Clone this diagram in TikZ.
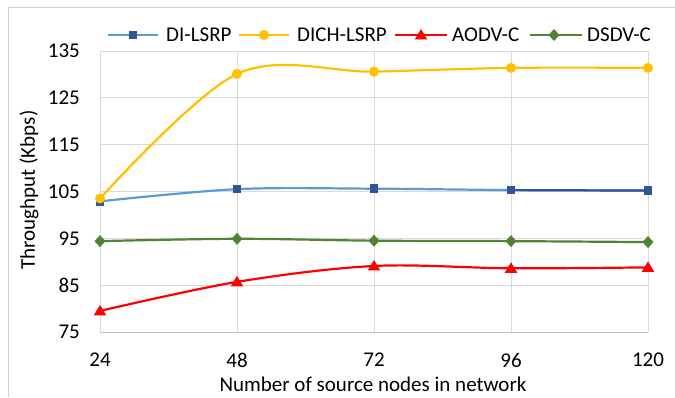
\documentclass[tikz,border=0pt]{standalone}
\usepackage{fontspec}
\setmainfont{Carlito}
\usetikzlibrary{plotmarks}
\definecolor{gridc}{HTML}{D9D9D9}
\definecolor{framec}{HTML}{D0D0D0}
\definecolor{axisc}{HTML}{BFBFBF}
\definecolor{blueL}{HTML}{5B9BD5}
\definecolor{blueD}{HTML}{2F5597}
\definecolor{gold}{HTML}{FFC000}
\definecolor{redc}{HTML}{FF0000}
\definecolor{greenc}{HTML}{548235}
\tikzset{
  lbl/.style={font=\fontsize{21}{24}\selectfont, inner sep=0pt},
  serline/.style={line width=2.2pt, line join=round, line cap=round},
  sqm/.style={fill=blueD, draw=none, minimum size=8.5pt, inner sep=0pt, shape=rectangle},
  cim/.style={fill=gold, draw=none, minimum size=10pt, inner sep=0pt, shape=circle},
}
\begin{document}
\begin{tikzpicture}[x=1pt,y=1pt]
\useasboundingbox (0,0) rectangle (675,397);
\fill[white] (0,0) rectangle (675,397);
% outer frame
\draw[framec, line width=1.5pt] (8.5,0) -- (8.5,389.7) -- (675,389.7);
% y tick labels (absolute positions)
\foreach \v/\p in {75/65,85/111.83,95/158.67,105/205.5,115/252.33,125/299.17,135/346}
  \node[lbl, anchor=east] (yt\v) at (80,\p) {\v};
% x tick labels
\foreach \u/\p in {24/100,48/237,72/374,96/511,120/648}
  \node[lbl] (xt\u) at (\p,37) {\u};
\begin{scope}[shift={(-37pt,-286.25pt)}, x=5.70833pt, y=4.68333pt]
  % grid
  \foreach \v in {85,95,...,135} \draw[gridc, line width=0.8pt] (24,\v) -- (120,\v);
  \foreach \u in {24,48,...,120} \draw[gridc, line width=0.8pt] (\u,75) -- (\u,135);
  \draw[axisc, line width=0.9pt] (24,75) -- (120,75);
  % series
  \draw[serline, gold] plot[smooth, tension=0.55] coordinates {(24,103.5) (48,130.1) (72,130.6) (96,131.4) (120,131.4)};
  \draw[serline, blueL] plot[smooth, tension=0.55] coordinates {(24,102.9) (48,105.5) (72,105.6) (96,105.3) (120,105.2)};
  \draw[serline, blueD] (96,105.3) -- (120,105.2);
  \draw[serline, redc] plot[smooth, tension=0.55] coordinates {(24,79.5) (48,85.7) (72,89.1) (96,88.6) (120,88.8)};
  \draw[serline, greenc] plot[smooth, tension=0.55] coordinates {(24,94.4) (48,94.9) (72,94.5) (96,94.4) (120,94.2)};
  % markers
  \foreach \u/\w [count=\i] in {24/102.9,48/105.5,72/105.6,96/105.3,120/105.2}
    \node[sqm] (b\i) at (\u,\w) {};
  \foreach \u/\w [count=\i] in {24/103.5,48/130.1,72/130.6,96/131.4,120/131.4}
    \node[cim] (y\i) at (\u,\w) {};
  \foreach \u/\w [count=\i] in {24/79.5,48/85.7,72/89.1,96/88.6,120/88.8}
    \fill[redc] (\u,\w) ++(0,6pt) -- ++(-6.3pt,-10.5pt) -- ++(12.6pt,0) -- cycle;
  \foreach \u/\w [count=\i] in {24/94.4,48/94.9,72/94.5,96/94.4,120/94.2}
    \fill[greenc] (\u,\w) ++(0,6pt) -- ++(5.5pt,-6pt) -- ++(-5.5pt,-6pt) -- ++(-5.5pt,6pt) -- cycle;
\end{scope}
% axis titles
\node[lbl, rotate=90] (ytitle) at (29,207) {Throughput (Kbps)};
\node[lbl] (xtitle) at (373,13) {Number of source nodes in network};
% legend
\draw[serline, blueL, line cap=butt] (108,362) -- (158,362);
\node[sqm] (lg1) at (133,362) {};
\node[lbl, anchor=west] (lt1) at (166,362) {DI-LSRP};
\draw[serline, gold, line cap=butt] (239,362) -- (289,362);
\node[cim] (lg2) at (264,362) {};
\node[lbl, anchor=west] (lt2) at (297,362) {DICH-LSRP};
\draw[serline, redc, line cap=butt] (395,362) -- (447,362);
\fill[redc] (421,362) ++(0,6pt) -- ++(-6.3pt,-10.5pt) -- ++(12.6pt,0) -- cycle;
\node[lbl, anchor=west] (lt3) at (452,362) {AODV-C};
\draw[serline, greenc, line cap=butt] (530,362) -- (582,362);
\fill[greenc] (554,362) ++(0,6pt) -- ++(5.5pt,-6pt) -- ++(-5.5pt,-6pt) -- ++(-5.5pt,6pt) -- cycle;
\node[lbl, anchor=west] (lt4) at (587,362) {DSDV-C};
\end{tikzpicture}
\end{document}
